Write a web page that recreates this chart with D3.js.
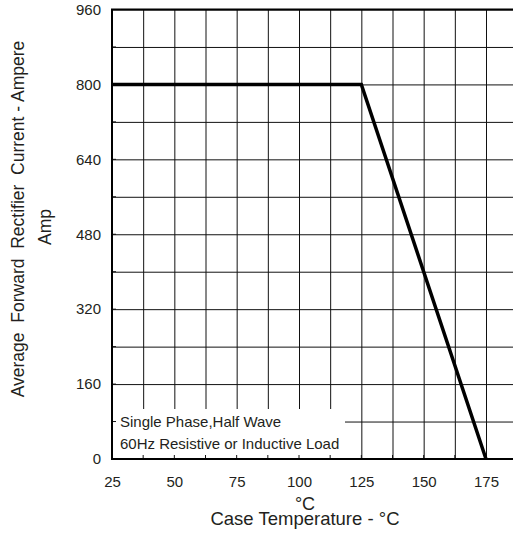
<!DOCTYPE html>
<html>
<head>
<meta charset="utf-8">
<script src="https://cdn.jsdelivr.net/npm/d3@7"></script>
<style>
  body { margin: 0; background: #fff; }
  svg { display: block; font-family: "Liberation Sans", Arial, sans-serif; }
</style>
</head>
<body>
<div id="chart"></div>
<script>
// derating curve: case temperature (°C) vs average forward current (A)
var caseTemp = [25, 125, 175];
var currentA = [800, 800, 0];

var xTickLabels = [25, 50, 75, 100, 125, 150, 175];
var yTickLabels = [0, 160, 320, 480, 640, 800, 960];
var xGridVals = d3.range(25, 187.5 + 0.01, 12.5);
var yGridVals = d3.range(0, 960 + 1, 80);

var noteLines = ["Single Phase,Half Wave", "60Hz Resistive or Inductive Load"];

var W = 513, H = 537;
var plotLeft = 112, plotTop = 9.5, plotBottom = 459;
var pxPerDeg = 374 / 150;

var x = d3.scaleLinear().domain([25, 187.5]).range([plotLeft, plotLeft + 162.5 * pxPerDeg]);
var y = d3.scaleLinear().domain([0, 960]).range([plotBottom, plotTop]);

var svg = d3.select("#chart").append("svg")
    .attr("width", W)
    .attr("height", H);

// grid
svg.append("g")
    .attr("transform", "translate(0," + plotBottom + ")")
    .call(d3.axisBottom(x).tickValues(xGridVals).tickSize(-(plotBottom - plotTop)).tickFormat(""))
    .call(function(g){ g.select(".domain").remove(); })
    .selectAll("line").attr("stroke", "#111").attr("stroke-width", 1);

svg.append("g")
    .attr("transform", "translate(" + plotLeft + ",0)")
    .call(d3.axisLeft(y).tickValues(yGridVals).tickSize(-(W - plotLeft + 10)).tickFormat(""))
    .call(function(g){ g.select(".domain").remove(); })
    .selectAll("line").attr("stroke", "#111").attr("stroke-width", 1);

// white box behind the note
svg.append("rect")
    .attr("x", plotLeft)
    .attr("y", 409)
    .attr("width", 345 - plotLeft)
    .attr("height", plotBottom - 409)
    .attr("fill", "#fff");

// small inward ticks
svg.append("g").selectAll("line")
    .data(xGridVals)
    .enter().append("line")
    .attr("x1", function(d){ return x(d); })
    .attr("x2", function(d){ return x(d); })
    .attr("y1", plotBottom)
    .attr("y2", plotBottom - 4)
    .attr("stroke", "#111");
svg.append("g").selectAll("line")
    .data(yGridVals)
    .enter().append("line")
    .attr("x1", plotLeft)
    .attr("x2", plotLeft + 4)
    .attr("y1", function(d){ return y(d); })
    .attr("y2", function(d){ return y(d); })
    .attr("stroke", "#111");

// frame
svg.append("path")
    .attr("d", "M" + (W + 5) + "," + plotTop + "H" + plotLeft + "V" + plotBottom + "H" + (W + 5))
    .attr("fill", "none")
    .attr("stroke", "#000")
    .attr("stroke-width", 2);

// tick labels
var xAxis = svg.append("g")
    .attr("transform", "translate(0," + plotBottom + ")")
    .call(d3.axisBottom(x).tickValues(xTickLabels).tickSize(0).tickPadding(17));
xAxis.select(".domain").remove();
xAxis.selectAll("text").attr("font-size", 15).attr("fill", "#231f20")
    .attr("font-family", "Liberation Sans, Arial, sans-serif");

var yAxis = svg.append("g")
    .attr("transform", "translate(" + plotLeft + ",0)")
    .call(d3.axisLeft(y).tickValues(yTickLabels).tickSize(0).tickPadding(11));
yAxis.select(".domain").remove();
yAxis.selectAll("text").attr("font-size", 15).attr("fill", "#231f20")
    .attr("font-family", "Liberation Sans, Arial, sans-serif");

// note
svg.append("g").selectAll("text")
    .data(noteLines)
    .enter().append("text")
    .attr("x", 120)
    .attr("y", function(d, i){ return 427 + i * 21.5; })
    .attr("font-size", 15)
    .attr("fill", "#231f20")
    .text(function(d){ return d; });

// curve
var line = d3.line()
    .x(function(d){ return x(d[0]); })
    .y(function(d){ return y(d[1]); });
svg.append("path")
    .datum(caseTemp.map(function(t, i){ return [t, currentA[i]]; }))
    .attr("d", line)
    .attr("fill", "none")
    .attr("stroke", "#000")
    .attr("stroke-width", 3.5)
    .attr("stroke-linejoin", "miter");

// axis titles
svg.append("text")
    .attr("x", 305)
    .attr("y", 510)
    .attr("text-anchor", "middle")
    .attr("font-size", 18)
    .attr("fill", "#231f20")
    .text("°C");
svg.append("text")
    .attr("x", 305)
    .attr("y", 525)
    .attr("text-anchor", "middle")
    .attr("font-size", 18.5)
    .attr("fill", "#231f20")
    .text("Case Temperature - °C");

svg.append("text")
    .attr("transform", "translate(24,219) rotate(-90)")
    .attr("text-anchor", "middle")
    .attr("font-size", 17.5)
    .attr("fill", "#231f20")
    .attr("xml:space", "preserve")
    .style("white-space", "pre")
    .text("Average  Forward  Rectifier  Current - Ampere");
svg.append("text")
    .attr("transform", "translate(51,227) rotate(-90)")
    .attr("text-anchor", "middle")
    .attr("font-size", 17.5)
    .attr("fill", "#231f20")
    .text("Amp");
</script>
</body>
</html>
